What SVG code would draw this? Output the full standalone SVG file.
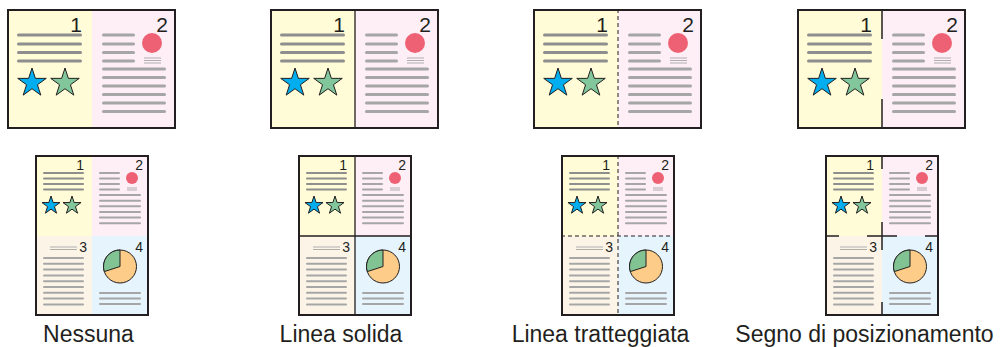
<svg xmlns="http://www.w3.org/2000/svg" xmlns:xlink="http://www.w3.org/1999/xlink" width="1001" height="347" viewBox="0 0 1001 347">
<style>
.num{font-family:"Liberation Sans",Arial,sans-serif;fill:#231F20;text-anchor:end}
.lbl{font-family:"Liberation Sans",Arial,sans-serif;fill:#231F20;font-size:23px;text-anchor:middle}
.ld{stroke:#8E8E8E;stroke-linecap:round;fill:none}
.ll{stroke:#A6A6A6;stroke-linecap:round;fill:none}
.thin{stroke:#A6A6A6;stroke-width:0.9;fill:none}
.border{fill:none;stroke:#231F20;stroke-width:2}
.div{stroke:#231F20;stroke-width:1.3;fill:none}
.dash{stroke:#231F20;stroke-width:1;stroke-dasharray:4 3;fill:none}
.mark{stroke:#231F20;stroke-width:1.5;fill:none}
.star{stroke:#231F20;stroke-width:1;stroke-linejoin:miter}
</style>
<defs>
<path id="starL" d="M0,-15 L3.37,-4.64 L14.27,-4.64 L5.45,1.77 L8.82,12.14 L0,5.73 L-8.82,12.14 L-5.45,1.77 L-14.27,-4.64 L-3.37,-4.64Z"/>
<path id="starS" d="M0,-9.5 L2.13,-2.94 L9.03,-2.94 L3.45,1.12 L5.59,7.69 L0,3.63 L-5.59,7.69 L-3.45,1.12 L-9.03,-2.94 L-2.13,-2.94Z"/>
<g id="topPage">
<rect x="7" y="9" width="85" height="120" fill="#FFFCD7"/>
<rect x="92" y="9" width="84" height="120" fill="#FDEFF5"/>
<text class="num" x="82" y="32" font-size="21">1</text>
<text class="num" x="168" y="32" font-size="21">2</text>
<g class="ld" stroke-width="3">
<line x1="18.5" y1="35" x2="80.5" y2="35"/>
<line x1="18.5" y1="44" x2="80.5" y2="44"/>
<line x1="18.5" y1="52.5" x2="80.5" y2="52.5"/>
<line x1="18.5" y1="61" x2="80.5" y2="61"/>
</g>
<use xlink:href="#starL" x="32" y="83" class="star" fill="#00AEEF"/>
<use xlink:href="#starL" x="65" y="83" class="star" fill="#82C79C"/>
<g class="ll" stroke-width="3">
<line x1="103.5" y1="35" x2="133.5" y2="35"/>
<line x1="103.5" y1="44" x2="133.5" y2="44"/>
<line x1="103.5" y1="52.5" x2="133.5" y2="52.5"/>
<line x1="103.5" y1="61" x2="133.5" y2="61"/>
<line x1="103.5" y1="69" x2="164.5" y2="69"/>
<line x1="103.5" y1="77.5" x2="164.5" y2="77.5"/>
<line x1="103.5" y1="86" x2="164.5" y2="86"/>
<line x1="103.5" y1="94.5" x2="164.5" y2="94.5"/>
<line x1="103.5" y1="103" x2="164.5" y2="103"/>
<line x1="103.5" y1="111.5" x2="164.5" y2="111.5"/>
</g>
<circle cx="152" cy="43" r="10" fill="#EE6174"/>
<g class="thin">
<line x1="144" y1="58" x2="161" y2="58"/>
<line x1="144" y1="60.5" x2="161" y2="60.5"/>
<line x1="144" y1="63" x2="161" y2="63"/>
</g>
</g>
<g id="botPage">
<rect x="35" y="155" width="57" height="81" fill="#FFFCD7"/>
<rect x="92" y="155" width="57" height="81" fill="#FDEFF5"/>
<rect x="35" y="236" width="57" height="80" fill="#FDF4E8"/>
<rect x="92" y="236" width="57" height="80" fill="#E6F4FD"/>
<text class="num" x="84" y="170" font-size="14">1</text>
<text class="num" x="143" y="170" font-size="14">2</text>
<text class="num" x="87" y="252" font-size="14">3</text>
<text class="num" x="143" y="252" font-size="14">4</text>
<g class="ld" stroke-width="2">
<line x1="44" y1="173" x2="83" y2="173"/>
<line x1="44" y1="178.5" x2="83" y2="178.5"/>
<line x1="44" y1="184" x2="83" y2="184"/>
<line x1="44" y1="189.5" x2="83" y2="189.5"/>
</g>
<use xlink:href="#starS" x="51" y="205.5" class="star" fill="#00AEEF"/>
<use xlink:href="#starS" x="72" y="205.5" class="star" fill="#82C79C"/>
<g class="ll" stroke-width="2">
<line x1="100" y1="173" x2="119" y2="173"/>
<line x1="100" y1="178.5" x2="119" y2="178.5"/>
<line x1="100" y1="184" x2="119" y2="184"/>
<line x1="100" y1="189.5" x2="119" y2="189.5"/>
<line x1="100" y1="195" x2="140" y2="195"/>
<line x1="100" y1="200.7" x2="140" y2="200.7"/>
<line x1="100" y1="206.3" x2="140" y2="206.3"/>
<line x1="100" y1="212" x2="140" y2="212"/>
<line x1="100" y1="217.6" x2="140" y2="217.6"/>
<line x1="100" y1="223.3" x2="140" y2="223.3"/>
</g>
<circle cx="132" cy="178" r="6" fill="#EE6174"/>
<g class="thin">
<line x1="127" y1="188" x2="137" y2="188"/>
<line x1="127" y1="190" x2="137" y2="190"/>
<line x1="50" y1="247" x2="77" y2="247"/>
<line x1="50" y1="249.5" x2="77" y2="249.5"/>
</g>
<g class="ll" stroke-width="2">
<line x1="44" y1="258" x2="83" y2="258"/>
<line x1="44" y1="263.8" x2="83" y2="263.8"/>
<line x1="44" y1="269.6" x2="83" y2="269.6"/>
<line x1="44" y1="275.4" x2="83" y2="275.4"/>
<line x1="44" y1="281.2" x2="83" y2="281.2"/>
<line x1="44" y1="287" x2="83" y2="287"/>
<line x1="44" y1="292.8" x2="83" y2="292.8"/>
<line x1="44" y1="298.6" x2="83" y2="298.6"/>
<line x1="44" y1="304.4" x2="83" y2="304.4"/>
<line x1="100" y1="293" x2="140" y2="293"/>
<line x1="100" y1="298.5" x2="140" y2="298.5"/>
<line x1="100" y1="304" x2="140" y2="304"/>
</g>
<circle cx="120" cy="266.5" r="16.5" fill="#FCCC88" stroke="#231F20" stroke-width="1"/>
<path d="M120,266.5 L120,250 A16.5,16.5 0 0 0 104.3,271.6 Z" fill="#82C393" stroke="#231F20" stroke-width="1"/>
</g>
</defs>

<g id="nessuna">
<use xlink:href="#topPage"/>
<rect class="border" x="8" y="10" width="167" height="118"/>
<use xlink:href="#botPage"/>
<rect class="border" x="36" y="156" width="112" height="159" stroke-width="1.6"/>
<text class="lbl" x="88.5" y="342">Nessuna</text>
</g>

<g id="linea-solida">
<use xlink:href="#topPage" x="263"/>
<line class="div" x1="355" y1="9" x2="355" y2="129"/>
<rect class="border" x="271" y="10" width="167" height="118"/>
<use xlink:href="#botPage" x="263"/>
<line class="div" x1="355" y1="155" x2="355" y2="316"/>
<line class="div" x1="298" y1="236" x2="412" y2="236"/>
<rect class="border" x="299" y="156" width="112" height="159" stroke-width="1.6"/>
<text class="lbl" x="341" y="342">Linea solida</text>
</g>

<g id="linea-tratteggiata">
<use xlink:href="#topPage" x="526"/>
<line class="dash" x1="618" y1="9" x2="618" y2="129"/>
<rect class="border" x="534" y="10" width="167" height="118"/>
<use xlink:href="#botPage" x="526"/>
<line class="dash" x1="618" y1="155" x2="618" y2="316"/>
<line class="dash" x1="561" y1="236" x2="675" y2="236"/>
<rect class="border" x="562" y="156" width="112" height="159" stroke-width="1.6"/>
<text class="lbl" x="600.5" y="342">Linea tratteggiata</text>
</g>

<g id="segno-di-posizionamento">
<use xlink:href="#topPage" x="790"/>
<line class="mark" x1="882" y1="9" x2="882" y2="39"/>
<line class="mark" x1="882" y1="99" x2="882" y2="129"/>
<rect class="border" x="798" y="10" width="167" height="118"/>
<use xlink:href="#botPage" x="790"/>
<line class="mark" x1="882" y1="155" x2="882" y2="169"/>
<line class="mark" x1="882" y1="222" x2="882" y2="250"/>
<line class="mark" x1="882" y1="302" x2="882" y2="316"/>
<line class="mark" x1="825" y1="236" x2="839" y2="236"/>
<line class="mark" x1="867" y1="236" x2="897" y2="236"/>
<line class="mark" x1="925" y1="236" x2="939" y2="236"/>
<rect class="border" x="826" y="156" width="112" height="159" stroke-width="1.6"/>
<text class="lbl" x="864.5" y="342">Segno di posizionamento</text>
</g>
</svg>
